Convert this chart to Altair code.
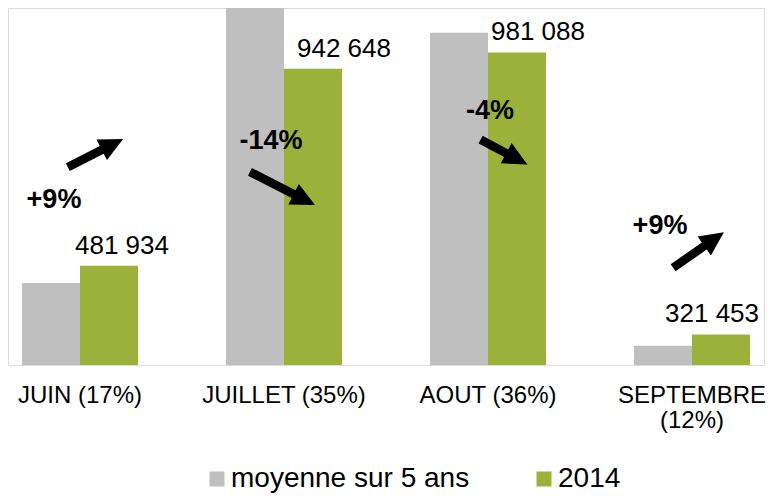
import altair as alt
import pandas as pd

# ---- data ----
months = ["JUIN (17%)", "JUILLET (35%)", "AOUT (36%)", "SEPTEMBRE (12%)"]
series = ["moyenne sur 5 ans", "2014"]
avg_5y = [442000, 1095000, 1027000, 295000]
v2014 = [481934, 942648, 981088, 321453]
value_labels = ["481 934", "942 648", "981 088", "321 453"]
changes = ["+9%", "-14%", "-4%", "+9%"]

# ---- annotation styling (pixel nudges, rotation, size) ----
label_dx = [42, 60, 50, 20]
label_dy = -20
pct_dx = [-26, -13, 2, -32]
pct_dy = [-66, 72, 59, -108]
arrow_dx = [15.5, -1.5, 16, 6.5]
arrow_dy = [-112.8, 119.6, 99.6, -84.4]
arrow_len = [62, 73, 53, 62]
arrow_angle = [333, 27, 28, 325]
SHAFT_HALF = 4.3   # px
HEAD_LEN = 24      # px
HEAD_HALF = 11.5   # px

GRAY = "#BFBFBF"
GREEN = "#9BB13A"
FONT = "Liberation Sans"


def arrow_path(length):
    s = length / 2.0
    t = SHAFT_HALF / s
    b = 1 - HEAD_LEN / s
    w = HEAD_HALF / s
    return (f"M -1 {-t:.4f} L {b:.4f} {-t:.4f} L {b:.4f} {-w:.4f} L 1 0 "
            f"L {b:.4f} {w:.4f} L {b:.4f} {t:.4f} L -1 {t:.4f} Z")


rows = []
for m, a, b in zip(months, avg_5y, v2014):
    rows.append({"month": m, "series": series[0], "value": a})
    rows.append({"month": m, "series": series[1], "value": b})
df = pd.DataFrame(rows)

x_enc = alt.X(
    "month:N",
    sort=months,
    scale=alt.Scale(domain=months, paddingInner=0.4314, paddingOuter=0.0686),
    axis=alt.Axis(
        title=None, labelAngle=0, ticks=False, tickSize=0, domain=False,
        labelFontSize=24, labelFont=FONT, labelColor="black", labelPadding=18,
        labelLineHeight=25,
        labelExpr="length(datum.label) > 14 ? split(datum.label, ' ') : datum.label",
    ),
)
y_scale = alt.Scale(domain=[250000, 1085000], zero=False, nice=False)

bars = alt.Chart(df).mark_bar(clip=True).encode(
    x=x_enc,
    xOffset=alt.XOffset("series:N", sort=series,
                        scale=alt.Scale(domain=series, paddingInner=0, paddingOuter=0)),
    y=alt.Y("value:Q", scale=y_scale, axis=None),
    color=alt.Color(
        "series:N", sort=series,
        scale=alt.Scale(domain=series, range=[GRAY, GREEN]),
        legend=alt.Legend(
            title=None, orient="none", direction="horizontal",
            legendX=195, legendY=457,
            symbolType="square", symbolSize=225, symbolStrokeWidth=0,
            labelFontSize=28, labelFont=FONT, labelColor="black", labelLimit=0,
            labelOffset=0, columnPadding=60, padding=0,
        ),
    ),
)

layers = [bars]
for i, m in enumerate(months):
    d = pd.DataFrame({"month": [m], "value": [v2014[i]],
                      "label": [value_labels[i]], "pct": [changes[i]]})
    base = alt.Chart(d).encode(
        x=alt.X("month:N", sort=months),
        y=alt.Y("value:Q", scale=y_scale),
    )
    layers.append(base.mark_text(
        dx=label_dx[i], dy=label_dy, fontSize=26, font=FONT, color="black",
        baseline="middle", align="center").encode(text="label:N"))
    layers.append(base.mark_text(
        dx=pct_dx[i], dy=pct_dy[i], fontSize=27, font=FONT, fontWeight="bold",
        color="black", baseline="middle", align="center").encode(text="pct:N"))
    layers.append(base.mark_point(
        shape=arrow_path(arrow_len[i]), filled=True, color="black", opacity=1,
        strokeWidth=0, size=arrow_len[i] ** 2, angle=arrow_angle[i],
        xOffset=arrow_dx[i], yOffset=arrow_dy[i]))

chart = alt.layer(*layers).properties(
    width=756, height=357,
    padding={"left": 0, "top": 0, "right": 0, "bottom": 0},
).configure_view(stroke=None).configure(background="white")

chart.save("out.html", embed_options={"renderer": "svg", "actions": False})
